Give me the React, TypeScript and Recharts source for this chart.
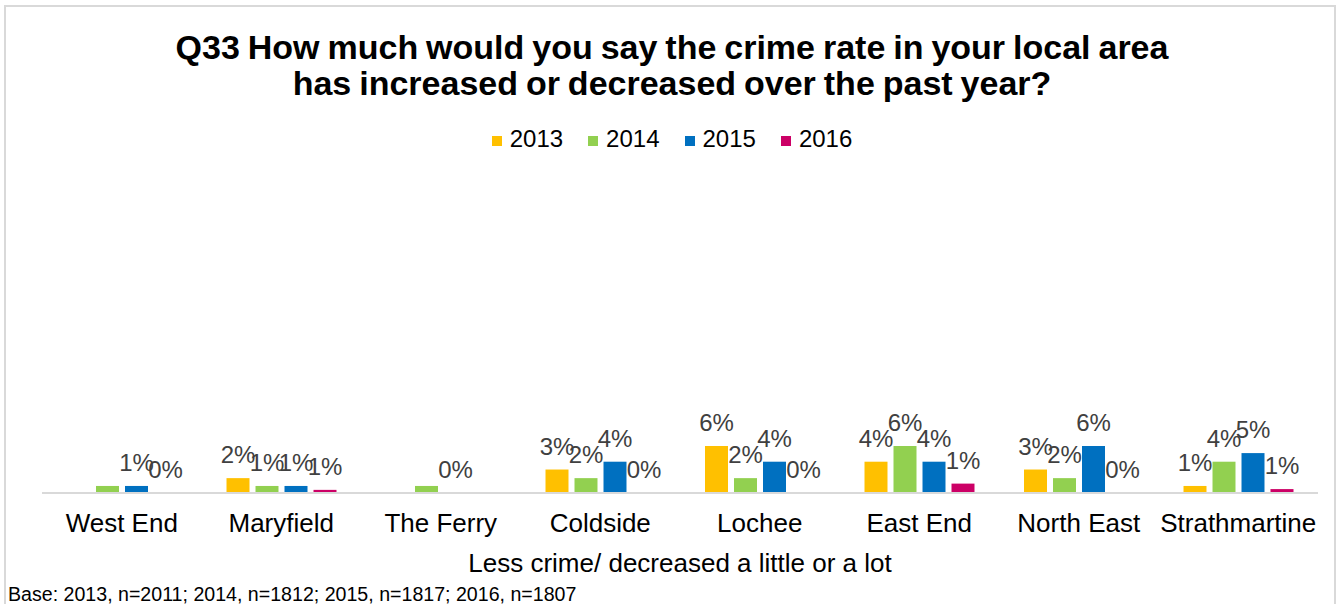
import React from 'react';
import { BarChart, Bar, XAxis, YAxis, LabelList } from 'recharts';

// areas along the x axis
const categories = [
  'West End',
  'Maryfield',
  'The Ferry',
  'Coldside',
  'Lochee',
  'East End',
  'North East',
  'Strathmartine',
];

const years = ['2013', '2014', '2015', '2016'];
const colors = ['#FFC000', '#92D050', '#0070C0', '#CC0066'];

// bar heights (%)
const values2013 = [null, 1.9, null, 3.0, 6.0, 4.0, 3.0, 0.9];
const values2014 = [0.9, 0.9, 0.9, 1.9, 1.9, 6.0, 1.9, 4.0];
const values2015 = [0.9, 0.9, 0, 4.0, 4.0, 4.0, 6.0, 5.1];
const values2016 = [0, 0.4, null, 0, 0, 1.2, 0, 0.5];

// data labels as printed on the chart
const labels2013 = ['', '2%', '', '3%', '6%', '4%', '3%', '1%'];
const labels2014 = ['', '1%', '', '2%', '2%', '6%', '2%', '4%'];
const labels2015 = ['1%', '1%', '0%', '4%', '4%', '4%', '6%', '5%'];
const labels2016 = ['0%', '1%', '', '0%', '0%', '1%', '0%', '1%'];

const data = categories.map((name, i) => ({
  name,
  v2013: values2013[i],
  v2014: values2014[i],
  v2015: values2015[i],
  v2016: values2016[i],
  l2013: labels2013[i],
  l2014: labels2014[i],
  l2015: labels2015[i],
  l2016: labels2016[i],
}));

const FONT = '"Liberation Sans", Arial, sans-serif';

const App: React.FC = () => {
  return (
    <div
      style={{
        position: 'absolute',
        left: 0,
        top: 0,
        width: 1342,
        height: 604,
        overflow: 'hidden',
        background: '#fff',
        fontFamily: FONT,
      }}
    >
      {/* outer frame */}
      <div
        style={{
          position: 'absolute',
          left: 4,
          top: 5,
          width: 1332,
          height: 700,
          boxSizing: 'border-box',
          border: '2px solid #D9D9D9',
        }}
      />

      {/* title */}
      <div
        style={{
          position: 'absolute',
          left: 0,
          top: 30,
          width: 1344,
          textAlign: 'center',
          fontSize: 34,
          fontWeight: 'bold',
          lineHeight: '35.5px',
          color: '#000',
          wordSpacing: -1.5,
        }}
      >
        Q33 How much would you say the crime rate in your local area
        <br />
        has increased or decreased over the past year?
      </div>

      {/* legend */}
      <div
        style={{
          position: 'absolute',
          left: 0,
          top: 125,
          width: 1344,
          display: 'flex',
          justifyContent: 'center',
          alignItems: 'center',
          gap: 25,
          fontSize: 24,
          lineHeight: '28px',
          color: '#000',
        }}
      >
        {years.map((y, i) => (
          <div key={y} style={{ display: 'flex', alignItems: 'center' }}>
            <span
              style={{
                display: 'inline-block',
                width: 10,
                height: 10,
                marginRight: 8,
                marginTop: 3,
                background: colors[i],
              }}
            />
            <span>{y}</span>
          </div>
        ))}
      </div>

      <div style={{ position: 'absolute', left: 0, top: 0 }}>
        <BarChart
          width={1342}
          height={604}
          data={data}
          margin={{ top: 180, right: 24, bottom: 51, left: 42 }}
          barSize={23}
          barGap={6}
        >
          <XAxis
            dataKey="name"
            height={60}
            interval={0}
            axisLine={{ stroke: '#D9D9D9', strokeWidth: 2 }}
            tickLine={false}
            tickMargin={15}
            tick={{ fontSize: 26, fill: '#000', fontFamily: FONT }}
          />
          <YAxis hide domain={[0, 40]} />
          <Bar dataKey="v2013" fill={colors[0]} minPointSize={0.01} isAnimationActive={false}>
            <LabelList dataKey="l2013" position="top" offset={15} fill="#404040" fontSize={24} fontFamily={FONT} />
          </Bar>
          <Bar dataKey="v2014" fill={colors[1]} minPointSize={0.01} isAnimationActive={false}>
            <LabelList dataKey="l2014" position="top" offset={15} fill="#404040" fontSize={24} fontFamily={FONT} />
          </Bar>
          <Bar dataKey="v2015" fill={colors[2]} minPointSize={0.01} isAnimationActive={false}>
            <LabelList dataKey="l2015" position="top" offset={15} fill="#404040" fontSize={24} fontFamily={FONT} />
          </Bar>
          <Bar dataKey="v2016" fill={colors[3]} minPointSize={0.01} isAnimationActive={false}>
            <LabelList dataKey="l2016" position="top" offset={15} fill="#404040" fontSize={24} fontFamily={FONT} />
          </Bar>
        </BarChart>
      </div>

      {/* axis title */}
      <div
        style={{
          position: 'absolute',
          left: 0,
          top: 550,
          width: 1360,
          textAlign: 'center',
          fontSize: 26,
          lineHeight: '26px',
          color: '#000',
        }}
      >
        Less crime/ decreased a little or a lot
      </div>

      {/* base note */}
      <div
        style={{
          position: 'absolute',
          left: 8,
          top: 585,
          fontSize: 19.6,
          lineHeight: '19px',
          color: '#000',
        }}
      >
        Base: 2013, n=2011; 2014, n=1812; 2015, n=1817; 2016, n=1807
      </div>
    </div>
  );
};

export default App;
